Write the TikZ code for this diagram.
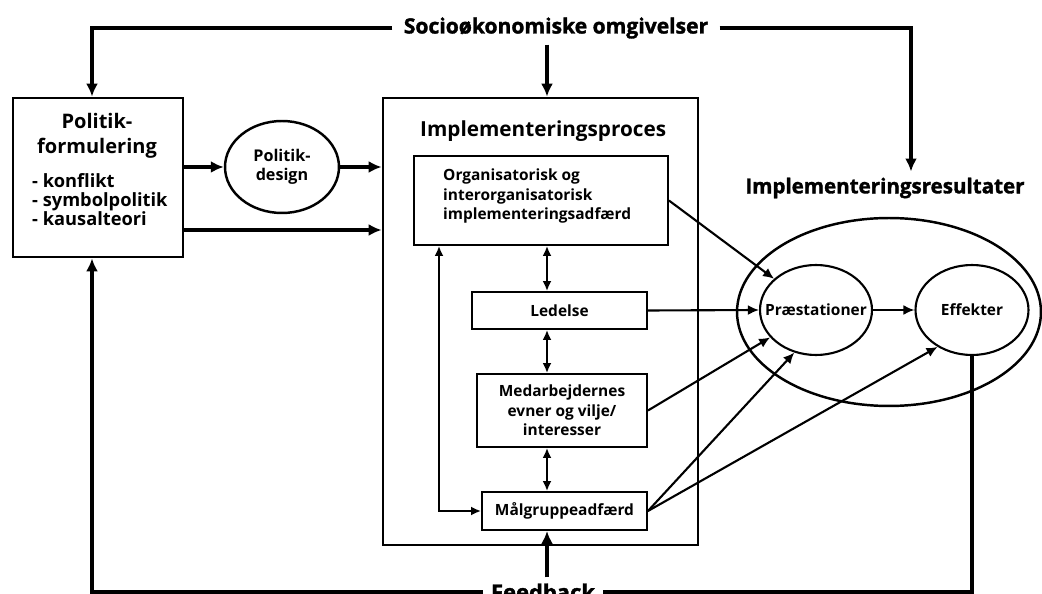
\documentclass[tikz,border=0pt]{standalone}
\usepackage{fontspec}
\setmainfont{Open Sans}
\newfontfamily\heavyfont{Open Sans}[FakeBold=1.6]
\usetikzlibrary{arrows.meta,shapes.geometric}

\tikzset{
  outline/.style={draw,line width=1.1pt,inner sep=0pt},
  mainline/.style={line width=1.8pt},
  arr/.style={-{Latex[length=2.6mm,width=2.4mm]}},
  outarr/.style={line width=1.2pt,-{Latex[length=2.2mm,width=2mm]}},
  dblarr/.style={line width=1.1pt,{Latex[length=2mm,width=1.8mm]}-{Latex[length=2mm,width=1.8mm]}},
  boxtext/.style={font=\bfseries\fontsize{8.8}{11.1}\selectfont},
  headtext/.style={font=\heavyfont\bfseries\fontsize{12}{14}\selectfont}
}

\begin{document}
\begin{tikzpicture}[x=0.02cm,y=-0.02cm]

\useasboundingbox (0,0) rectangle (1042,594);

% politikformulering
\node[outline,line width=1.6pt,minimum width=3.4cm,minimum height=3.18cm] (pf) at (98,177.5) {};
\node[font=\bfseries\fontsize{11.4}{14.2}\selectfont,align=center] (pftitle) at (97,136) {Politik-\\formulering};
\node[font=\bfseries\fontsize{10.4}{10.8}\selectfont,align=left,anchor=west] (pflist) at (26,200) {- konflikt\\- symbolpolitik\\- kausalteori};

\node[ellipse,draw,line width=1.4pt,inner sep=0pt,minimum width=2.28cm,minimum height=1.84cm,align=center,font=\bfseries\fontsize{9.2}{10.8}\selectfont] (design) at (282,167) {Politik-\\design};

% implementeringsproces
\node[outline,line width=1.6pt,minimum width=6.3cm,minimum height=8.94cm] (impl) at (540.5,321.5) {};
\node[font=\bfseries\fontsize{11.8}{14}\selectfont,anchor=west] (impltitle) at (414,131) {Implementeringsproces};

\node[outline,minimum width=5.08cm,minimum height=1.78cm] (org) at (541,200.5) {};
\node[boxtext,align=left,anchor=west] (orgtext) at (437,196) {Organisatorisk og\\interorganisatorisk\\implementeringsadfærd};

\node[outline,boxtext,minimum width=3.5cm,minimum height=0.74cm] (led) at (559.5,310.5) {Ledelse};
\node[outline,boxtext,align=center,minimum width=3.4cm,minimum height=1.46cm] (med) at (562,410.5) {Medarbejdernes\\evner og vilje/\\interesser};
\node[outline,boxtext,minimum width=3.3cm,minimum height=0.76cm] (mal) at (564.5,511) {Målgruppeadfærd};

% implementeringsresultater
\node[ellipse,draw,line width=1.4pt,minimum width=6.08cm,minimum height=3.76cm] (res) at (889,312) {};
\node[headtext,font=\heavyfont\bfseries\fontsize{11.7}{14}\selectfont] (restitle) at (885,188) {Implementeringsresultater};
\node[ellipse,draw,line width=1.2pt,inner sep=0pt,minimum width=2.24cm,minimum height=1.8cm,boxtext] (praes) at (816,310) {\makebox[0pt]{Præstationer}};
\node[ellipse,draw,line width=1.2pt,inner sep=0pt,minimum width=2.26cm,minimum height=1.8cm,boxtext] (eff) at (972,310) {\makebox[0pt]{Effekter}};

\node[headtext,inner xsep=0.22cm] (socio) at (556,28) {Socioøkonomiske omgivelser};
\node[headtext,font=\heavyfont\bfseries\fontsize{12.5}{14}\selectfont,inner xsep=0.16cm] (fb) at (543,592) {Feedback};

\coordinate (col) at (547,0);
\coordinate (loopx) at (439,0);

% omgivelser
\draw[mainline,arr] (socio.west) -| ([xshift=-0.12cm]pf.north);
\draw[mainline,arr] (socio.east) -| ([xshift=0.52cm]restitle.north);
\draw[mainline,arr] (socio.south -| col) -- (col |- impl.north);

\draw[mainline,arr] (pf.east |- design.west) -- (design.west);
\draw[mainline,arr] (design.east) -- (design.east -| impl.west);
\draw[mainline,arr] (pf.east |- 0,230) -- (impl.west |- 0,230);

% inde i processen
\draw[dblarr] (col |- org.south) -- (col |- led.north);
\draw[dblarr] (col |- led.south) -- (col |- med.north);
\draw[dblarr] (col |- med.south) -- (col |- mal.north);
\draw[dblarr] (loopx |- org.south) |- (mal.west);

\draw[outarr] (org.east) -- (praes);
\draw[outarr] (led.east) -- (praes.west);
\draw[outarr] (med.east) -- (praes);
\draw[outarr] (mal.east) -- (praes.243);
\draw[outarr] (mal.east) -- (eff.227);
\draw[outarr] (praes.east) -- (eff.west);

% feedback
\draw[mainline] (eff.south) |- (fb.east);
\draw[mainline,arr] (fb.west) -| ([xshift=-0.12cm]pf.south);
\draw[mainline,arr] (fb.north -| col) -- (col |- mal.south);

\end{tikzpicture}
\end{document}
